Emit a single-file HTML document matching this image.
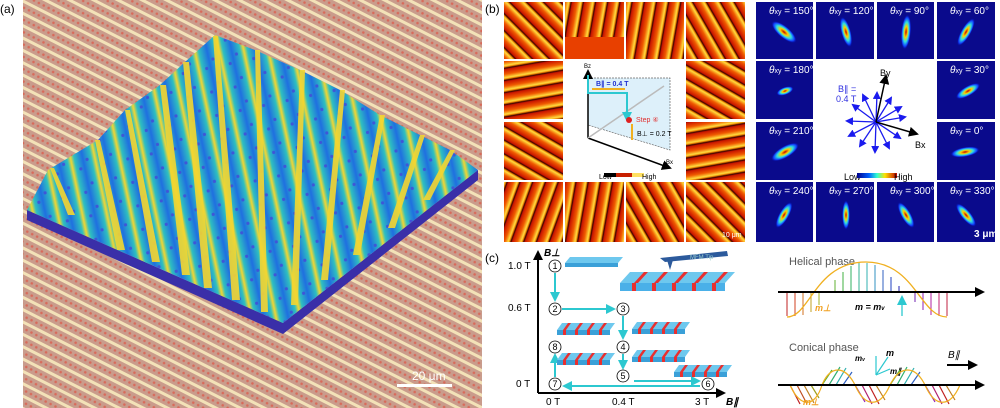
<!DOCTYPE html>
<html><head><meta charset="utf-8"><style>
html,body{margin:0;padding:0;background:#fff;}
svg{display:block;font-family:"Liberation Sans",sans-serif;}
</style></head><body>
<svg width="1000" height="408" viewBox="0 0 1000 408" xmlns="http://www.w3.org/2000/svg">
<defs>
<pattern id="bg" width="11" height="11" patternUnits="userSpaceOnUse" patternTransform="rotate(27)">
<rect width="11" height="11" fill="#c99c8c"/><rect y="0" width="11" height="3" fill="#f3e2b8"/>
<circle cx="3" cy="7" r="1.3" fill="#d86a5a"/><circle cx="8.5" cy="7" r="1.3" fill="#d86a5a"/>
</pattern>
<linearGradient id="ridge" x1="0" x2="1">
<stop offset="0" stop-color="#1f6fe0"/><stop offset="0.35" stop-color="#2fc0c0"/><stop offset="0.5" stop-color="#f5d630"/><stop offset="0.65" stop-color="#2fc0c0"/><stop offset="1" stop-color="#1f6fe0"/>
</linearGradient>
<pattern id="top" width="24" height="24" patternUnits="userSpaceOnUse" patternTransform="rotate(-12)">
<rect width="24" height="24" fill="url(#ridge)"/>
<circle cx="4" cy="6" r="1.6" fill="#3e56d8"/><circle cx="20" cy="14" r="1.6" fill="#3e56d8"/>
</pattern>
<linearGradient id="rs" x1="0" x2="1"><stop offset="0" stop-color="#c81400"/><stop offset="0.4" stop-color="#f05a00"/><stop offset="0.7" stop-color="#ffe040"/><stop offset="0.8" stop-color="#f08000"/><stop offset="0.9" stop-color="#300000"/><stop offset="1" stop-color="#c81400"/></linearGradient>
<pattern id="r1" width="12" height="12" patternUnits="userSpaceOnUse" patternTransform="rotate(-45)"><rect width="12" height="12" fill="url(#rs)"/></pattern>
<pattern id="r2" width="12" height="12" patternUnits="userSpaceOnUse" patternTransform="rotate(80)"><rect width="12" height="12" fill="url(#rs)"/></pattern>
<pattern id="r3" width="12" height="12" patternUnits="userSpaceOnUse" patternTransform="rotate(-60)"><rect width="12" height="12" fill="url(#rs)"/></pattern>
<pattern id="r4" width="12" height="12" patternUnits="userSpaceOnUse" patternTransform="rotate(-30)"><rect width="12" height="12" fill="url(#rs)"/></pattern>
<pattern id="r5" width="12" height="12" patternUnits="userSpaceOnUse" patternTransform="rotate(20)"><rect width="12" height="12" fill="url(#rs)"/></pattern>
<pattern id="r7" width="12" height="12" patternUnits="userSpaceOnUse" patternTransform="rotate(10)"><rect width="12" height="12" fill="url(#rs)"/></pattern>
<radialGradient id="blob"><stop offset="0" stop-color="#c00000"/><stop offset="0.3" stop-color="#ffd000"/><stop offset="0.55" stop-color="#30e0e0"/><stop offset="0.8" stop-color="#1040ff"/><stop offset="1" stop-color="#00008c" stop-opacity="0"/></radialGradient>
<linearGradient id="jet"><stop offset="0" stop-color="#00008c"/><stop offset="0.3" stop-color="#0060ff"/><stop offset="0.5" stop-color="#30ffd0"/><stop offset="0.7" stop-color="#ffe000"/><stop offset="1" stop-color="#c00000"/></linearGradient>
<marker id="ab" markerWidth="8" markerHeight="8" refX="6" refY="4" orient="auto" markerUnits="userSpaceOnUse"><path d="M0,0 L8,4 L0,8z" fill="#1a1aee"/></marker>
<marker id="ak" markerWidth="10" markerHeight="10" refX="8" refY="5" orient="auto" markerUnits="userSpaceOnUse"><path d="M0,0 L10,5 L0,10z" fill="#000"/></marker>
<marker id="ac" markerWidth="10" markerHeight="10" refX="8" refY="5" orient="auto" markerUnits="userSpaceOnUse"><path d="M0,0 L10,5 L0,10z" fill="#2cc8d0"/></marker>
<g id="sb"><polygon points="0,7 5,0 58,0 53,7" fill="#6ec8ee"/><rect x="0" y="7" width="53" height="5" fill="#3aa0d8"/>
<g fill="#e83030"><polygon points="6,7 11,0 14,0 9,7"/><polygon points="18,7 23,0 26,0 21,7"/><polygon points="30,7 35,0 38,0 33,7"/><polygon points="42,7 47,0 50,0 45,7"/><rect x="6" y="7" width="3" height="5"/><rect x="18" y="7" width="3" height="5"/><rect x="30" y="7" width="3" height="5"/><rect x="42" y="7" width="3" height="5"/></g></g>
</defs>

<!-- Panel a -->
<rect x="23" y="0" width="459" height="408" fill="url(#bg)"/>
<text x="0" y="13" font-size="12">(a)</text>
<polygon points="27,210 27,220 283,334 478,180 478,170 283,323" fill="#3a2fa8"/>
<polygon points="27,210 48,170 98,140 125,110 160,85 185,62 215,35 255,50 300,70 340,90 380,115 420,135 450,150 478,170 283,323" fill="url(#top)"/>
<g fill="#f5d630" opacity="0.9">
<polygon points="50,168 54,168 75,215 68,215"/>
<polygon points="95,140 100,140 125,250 117,250"/>
<polygon points="125,110 130,110 160,262 152,262"/>
<polygon points="160,85 166,85 190,275 182,275"/>
<polygon points="183,62 189,62 212,288 204,288"/>
<polygon points="213,36 218,36 240,300 232,300"/>
<polygon points="255,50 260,50 268,312 261,312"/>
<polygon points="300,70 305,70 298,305 291,305"/>
<polygon points="340,90 345,90 328,280 321,280"/>
<polygon points="380,115 385,115 360,255 353,255"/>
<polygon points="420,135 425,135 395,228 388,228"/>
<polygon points="450,150 455,150 430,200 423,200"/>
</g>
<text x="412" y="380" font-size="12" fill="#fff">20 μm</text>
<rect x="397" y="384" width="55" height="3" fill="#fff"/>

<!-- Panel b left -->
<text x="485" y="13" font-size="12">(b)</text>
<g>
<rect x="504" y="2" width="59" height="57" fill="url(#r1)"/>
<rect x="565" y="2" width="59" height="57" fill="#e84000"/><rect x="565" y="2" width="59" height="35" fill="url(#r7)"/>
<rect x="626" y="2" width="58" height="57" fill="url(#r7)"/>
<rect x="686" y="2" width="59" height="57" fill="url(#r4)"/>
<rect x="504" y="61" width="59" height="58" fill="url(#r2)"/>
<rect x="686" y="61" width="59" height="58" fill="url(#r3)"/>
<rect x="504" y="122" width="59" height="58" fill="url(#r3)"/>
<rect x="686" y="122" width="59" height="58" fill="url(#r2)"/>
<rect x="504" y="182" width="59" height="60" fill="url(#r5)"/>
<rect x="565" y="182" width="59" height="60" fill="url(#r7)"/>
<rect x="626" y="182" width="58" height="60" fill="url(#r4)"/>
<rect x="686" y="182" width="59" height="60" fill="url(#r1)"/>
<rect x="565" y="61" width="119" height="119" fill="#fff"/>
<polygon points="588,78 670,78 670,150 588,125" fill="#ddf0fa" stroke="#666" stroke-dasharray="2,1" stroke-width="0.7"/>
<line x1="588" y1="138" x2="588" y2="71" stroke="#000" stroke-width="1.5" marker-end="url(#ak)"/>
<line x1="588" y1="138" x2="670" y2="168" stroke="#000" stroke-width="1.5" marker-end="url(#ak)"/>
<line x1="588" y1="138" x2="664" y2="86" stroke="#bbb" stroke-width="1.5"/>
<polyline points="588,75 588,93 627,93 627,120" fill="none" stroke="#2cc8d0" stroke-width="2" marker-end="url(#ac)"/>
<line x1="592" y1="89" x2="625" y2="89" stroke="#f0b020" stroke-width="2"/>
<line x1="632" y1="124" x2="632" y2="140" stroke="#f0b020" stroke-width="2"/>
<circle cx="629" cy="120" r="3" fill="#e02020"/>
<text x="596" y="86" font-size="7" fill="#2030d0" font-weight="bold">B∥ = 0.4 T</text>
<text x="636" y="122" font-size="7" fill="#e03030">Step ④</text>
<text x="637" y="136" font-size="7">B⊥ = 0.2 T</text>
<text x="584" y="68" font-size="6">Bz</text><text x="666" y="164" font-size="6">Bx</text>
<text x="599" y="179" font-size="7">Low</text><rect x="604" y="173" width="40" height="4" fill="#c82000"/><rect x="604" y="173" width="12" height="4" fill="#000"/><rect x="632" y="173" width="12" height="4" fill="#ffe060"/><text x="642" y="179" font-size="7">High</text>
<text x="722" y="237" font-size="7" fill="#fff">10 μm</text>
</g>

<!-- Panel b right (FFT) -->
<g font-size="10" fill="#fff">
<g fill="#0a0a8c">
<rect x="756" y="2" width="57" height="57"/><rect x="816" y="2" width="58" height="57"/><rect x="877" y="2" width="57" height="57"/><rect x="937" y="2" width="58" height="57"/>
<rect x="756" y="61" width="57" height="58"/><rect x="937" y="61" width="58" height="58"/>
<rect x="756" y="122" width="57" height="58"/><rect x="937" y="122" width="58" height="58"/>
<rect x="756" y="182" width="57" height="60"/><rect x="816" y="182" width="58" height="60"/><rect x="877" y="182" width="57" height="60"/><rect x="937" y="182" width="58" height="60"/>
</g>
<ellipse cx="784" cy="32" rx="6" ry="16" fill="url(#blob)" transform="rotate(-50 784 32)"/>
<ellipse cx="846" cy="32" rx="5" ry="16" fill="url(#blob)" transform="rotate(-15 846 32)"/>
<ellipse cx="906" cy="32" rx="5" ry="18" fill="url(#blob)" transform="rotate(5 906 32)"/>
<ellipse cx="966" cy="32" rx="5" ry="16" fill="url(#blob)" transform="rotate(30 966 32)"/>
<ellipse cx="785" cy="91" rx="4" ry="9" fill="url(#blob)" transform="rotate(70 785 91)"/>
<ellipse cx="968" cy="91" rx="5" ry="14" fill="url(#blob)" transform="rotate(60 968 91)"/>
<ellipse cx="785" cy="152" rx="6" ry="16" fill="url(#blob)" transform="rotate(60 785 152)"/>
<ellipse cx="965" cy="152" rx="5" ry="15" fill="url(#blob)" transform="rotate(80 965 152)"/>
<ellipse cx="784" cy="215" rx="5" ry="15" fill="url(#blob)" transform="rotate(30 784 215)"/>
<ellipse cx="846" cy="215" rx="4" ry="15" fill="url(#blob)"/>
<ellipse cx="906" cy="215" rx="5" ry="15" fill="url(#blob)" transform="rotate(-30 906 215)"/>
<ellipse cx="966" cy="215" rx="5" ry="15" fill="url(#blob)" transform="rotate(-40 966 215)"/>
<text x="769" y="14"><tspan font-style="italic">θ</tspan><tspan font-size="7">xy</tspan> = 150°</text>
<text x="829" y="14"><tspan font-style="italic">θ</tspan><tspan font-size="7">xy</tspan> = 120°</text>
<text x="890" y="14"><tspan font-style="italic">θ</tspan><tspan font-size="7">xy</tspan> = 90°</text>
<text x="950" y="14"><tspan font-style="italic">θ</tspan><tspan font-size="7">xy</tspan> = 60°</text>
<text x="769" y="73"><tspan font-style="italic">θ</tspan><tspan font-size="7">xy</tspan> = 180°</text>
<text x="950" y="73"><tspan font-style="italic">θ</tspan><tspan font-size="7">xy</tspan> = 30°</text>
<text x="769" y="134"><tspan font-style="italic">θ</tspan><tspan font-size="7">xy</tspan> = 210°</text>
<text x="950" y="134"><tspan font-style="italic">θ</tspan><tspan font-size="7">xy</tspan> = 0°</text>
<text x="769" y="194"><tspan font-style="italic">θ</tspan><tspan font-size="7">xy</tspan> = 240°</text>
<text x="829" y="194"><tspan font-style="italic">θ</tspan><tspan font-size="7">xy</tspan> = 270°</text>
<text x="890" y="194"><tspan font-style="italic">θ</tspan><tspan font-size="7">xy</tspan> = 300°</text>
<text x="950" y="194"><tspan font-style="italic">θ</tspan><tspan font-size="7">xy</tspan> = 330°</text>
<text x="974" y="237" font-weight="bold">3 μm</text>
</g>
<g stroke="#1a1aee" stroke-width="1.3" marker-end="url(#ab)">
<line x1="876" y1="122" x2="905" y2="117"/><line x1="876" y1="122" x2="901" y2="107"/><line x1="876" y1="122" x2="891" y2="98"/>
<line x1="876" y1="122" x2="877" y2="93"/><line x1="876" y1="122" x2="863" y2="95"/><line x1="876" y1="122" x2="853" y2="105"/>
<line x1="876" y1="122" x2="847" y2="121"/><line x1="876" y1="122" x2="849" y2="136"/><line x1="876" y1="122" x2="860" y2="146"/>
<line x1="876" y1="122" x2="875" y2="152"/><line x1="876" y1="122" x2="889" y2="148"/><line x1="876" y1="122" x2="900" y2="138"/>
</g>
<line x1="876" y1="122" x2="917" y2="134" stroke="#000" stroke-width="1.5" marker-end="url(#ak)"/>
<line x1="876" y1="122" x2="886" y2="76" stroke="#000" stroke-width="1.5" marker-end="url(#ak)"/>
<text x="838" y="92" font-size="9" fill="#3030e0">B∥ =</text><text x="836" y="102" font-size="9" fill="#3030e0">0.4 T</text>
<text x="880" y="76" font-size="9">By</text><text x="915" y="148" font-size="9">Bx</text>
<text x="844" y="180" font-size="9">Low</text>
<rect x="857" y="173" width="40" height="5" fill="url(#jet)"/><text x="894" y="180" font-size="9">High</text>

<!-- Panel c -->
<text x="485" y="262" font-size="12">(c)</text>
<line x1="538" y1="393" x2="538" y2="252" stroke="#000" stroke-width="2" marker-end="url(#ak)"/>
<line x1="538" y1="393" x2="724" y2="393" stroke="#000" stroke-width="2" marker-end="url(#ak)"/>
<g font-size="10">
<text x="544" y="256" font-weight="bold" font-style="italic">B⊥</text>
<text x="508" y="269">1.0 T</text><text x="508" y="311">0.6 T</text><text x="516" y="387">0 T</text>
<text x="546" y="405">0 T</text><text x="612" y="405">0.4 T</text><text x="695" y="405">3 T</text>
<text x="726" y="405" font-weight="bold" font-style="italic">B∥</text>
</g>
<g stroke="#2cc8d0" stroke-width="2" marker-end="url(#ac)">
<line x1="555" y1="273" x2="555" y2="300"/><line x1="562" y1="309" x2="614" y2="309"/>
<line x1="623" y1="316" x2="623" y2="338"/><line x1="623" y1="354" x2="623" y2="368"/>
<line x1="634" y1="381" x2="699" y2="381"/><line x1="700" y1="386" x2="564" y2="386"/>
<line x1="555" y1="377" x2="555" y2="355"/>
</g>
<g fill="#fff" stroke="#000" stroke-width="0.8">
<circle cx="555" cy="266" r="6"/><circle cx="555" cy="309" r="6"/><circle cx="623" cy="309" r="6"/><circle cx="623" cy="347" r="6"/>
<circle cx="623" cy="376" r="6"/><circle cx="708" cy="384" r="6"/><circle cx="555" cy="384" r="6"/><circle cx="555" cy="347" r="6"/>
</g>
<g font-size="9" text-anchor="middle">
<text x="555" y="269">1</text><text x="555" y="312">2</text><text x="623" y="312">3</text><text x="623" y="350">4</text>
<text x="623" y="379">5</text><text x="708" y="387">6</text><text x="555" y="387">7</text><text x="555" y="350">8</text>
</g>
<g>
<polygon points="565,263 570,257 623,257 618,263" fill="#6ec8ee"/><rect x="565" y="263" width="53" height="4" fill="#3aa0d8"/>
<polygon points="620,283 630,272 735,272 725,283" fill="#6ec8ee"/><rect x="620" y="283" width="105" height="8" fill="#4ab0e8"/>
<g fill="#e83030"><rect x="632" y="283" width="4" height="8"/><rect x="652" y="283" width="4" height="8"/><rect x="672" y="283" width="4" height="8"/><rect x="692" y="283" width="4" height="8"/><rect x="712" y="283" width="4" height="8"/>
<polygon points="634,283 644,272 648,272 638,283"/><polygon points="654,283 664,272 668,272 658,283"/><polygon points="674,283 684,272 688,272 678,283"/><polygon points="694,283 704,272 708,272 698,283"/><polygon points="714,283 724,272 728,272 718,283"/></g>
<polygon points="660,258 727,251 728,256 665,262" fill="#2c5a9c"/><polygon points="667,260 673,260 670,270" fill="#2c5a9c"/>
<text x="690" y="259" font-size="6" fill="#9cc">MFM Tip</text>
<use href="#sb" x="557" y="353"/><use href="#sb" x="557" y="323"/><use href="#sb" x="632" y="350"/><use href="#sb" x="632" y="322"/><use href="#sb" x="674" y="365"/>
</g>

<!-- right helical -->
<text x="789" y="265" font-size="11" fill="#555">Helical phase</text>
<g stroke-width="1">
<line x1="787" y1="293" x2="787" y2="316" stroke="#c02020"/><line x1="795" y1="293" x2="795" y2="316" stroke="#d04020"/><line x1="803" y1="293" x2="803" y2="315" stroke="#d07020"/><line x1="811" y1="293" x2="811" y2="312" stroke="#c0a020"/><line x1="819" y1="293" x2="819" y2="305" stroke="#a0b020"/>
<line x1="835" y1="293" x2="835" y2="280" stroke="#60b030"/><line x1="843" y1="293" x2="843" y2="272" stroke="#40b040"/><line x1="851" y1="293" x2="851" y2="266" stroke="#30b060"/><line x1="859" y1="293" x2="859" y2="263" stroke="#30b090"/><line x1="867" y1="293" x2="867" y2="263" stroke="#30b0b0"/><line x1="875" y1="293" x2="875" y2="265" stroke="#3090c0"/><line x1="883" y1="293" x2="883" y2="270" stroke="#3060c0"/><line x1="891" y1="293" x2="891" y2="277" stroke="#2040c0"/><line x1="899" y1="293" x2="899" y2="286" stroke="#2020b0"/>
<line x1="915" y1="293" x2="915" y2="302" stroke="#7020b0"/><line x1="923" y1="293" x2="923" y2="310" stroke="#9020b0"/><line x1="931" y1="293" x2="931" y2="315" stroke="#b020a0"/><line x1="939" y1="293" x2="939" y2="316" stroke="#c02070"/><line x1="947" y1="293" x2="947" y2="316" stroke="#c02040"/>
</g>
<path d="M787,317 C810,317 815,262 866,262 C915,262 920,317 947,317" fill="none" stroke="#f0b020" stroke-width="1.3"/>
<line x1="778" y1="292" x2="983" y2="292" stroke="#000" stroke-width="2" marker-end="url(#ak)"/>
<line x1="902" y1="316" x2="902" y2="297" stroke="#2cc8d0" stroke-width="1.3" marker-end="url(#ac)"/>
<text x="815" y="311" font-size="9" fill="#f0a020" font-style="italic" font-weight="bold">m⊥</text>
<text x="855" y="310" font-size="9" font-style="italic" font-weight="bold">m = m<tspan font-size="6">v</tspan></text>
<!-- conical -->
<text x="789" y="351" font-size="11" fill="#555">Conical phase</text>
<text x="948" y="358" font-size="10" font-style="italic">B∥</text>
<line x1="947" y1="365" x2="976" y2="365" stroke="#000" stroke-width="2" marker-end="url(#ak)"/>
<g stroke="#2cc8d0" stroke-width="1.2"><line x1="876" y1="375" x2="876" y2="356"/><line x1="876" y1="375" x2="888" y2="357"/><line x1="876" y1="375" x2="890" y2="369"/></g>
<text x="855" y="361" font-size="8" font-style="italic" font-weight="bold">m<tspan font-size="5">v</tspan></text><text x="886" y="356" font-size="9" font-style="italic" font-weight="bold">m</text><text x="890" y="374" font-size="8" font-style="italic" font-weight="bold">m∥</text>
<g stroke-width="1.2">
<line x1="790" y1="385" x2="800" y2="404" stroke="#c02020"/><line x1="797" y1="385" x2="807" y2="404" stroke="#c05020"/><line x1="804" y1="385" x2="814" y2="403" stroke="#c08020"/><line x1="811" y1="385" x2="819" y2="398" stroke="#a0a020"/>
<line x1="822" y1="385" x2="832" y2="370" stroke="#50b030"/><line x1="829" y1="385" x2="840" y2="367" stroke="#30b070"/><line x1="836" y1="385" x2="846" y2="368" stroke="#30b0b0"/><line x1="843" y1="385" x2="852" y2="372" stroke="#3060c0"/>
<line x1="855" y1="385" x2="865" y2="402" stroke="#9020b0"/><line x1="862" y1="385" x2="872" y2="404" stroke="#b02070"/><line x1="869" y1="385" x2="879" y2="404" stroke="#c02020"/><line x1="876" y1="385" x2="885" y2="400" stroke="#c08020"/>
<line x1="890" y1="385" x2="900" y2="370" stroke="#50b030"/><line x1="897" y1="385" x2="907" y2="367" stroke="#30b070"/><line x1="904" y1="385" x2="914" y2="368" stroke="#30b0b0"/><line x1="911" y1="385" x2="920" y2="372" stroke="#3060c0"/>
<line x1="925" y1="385" x2="935" y2="402" stroke="#9020b0"/><line x1="932" y1="385" x2="942" y2="404" stroke="#b02070"/><line x1="939" y1="385" x2="949" y2="404" stroke="#c02020"/><line x1="946" y1="385" x2="955" y2="400" stroke="#c08020"/>
</g>
<path d="M790,385 C800,408 815,408 822,385 C830,365 845,365 855,385 C865,408 880,408 890,385 C900,365 915,365 925,385 C935,408 950,408 960,385" fill="none" stroke="#f0b020" stroke-width="1.2"/>
<line x1="778" y1="385" x2="983" y2="385" stroke="#000" stroke-width="2" marker-end="url(#ak)"/>
<text x="803" y="405" font-size="9" fill="#f0a020" font-style="italic" font-weight="bold">m⊥</text>
</svg>
</body></html>
